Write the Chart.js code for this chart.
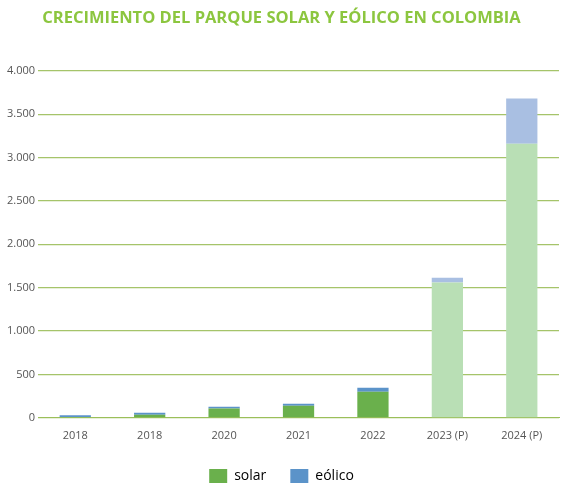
<!DOCTYPE html><html><head><script src="https://cdn.jsdelivr.net/npm/chart.js"></script>
<style>body{margin:0;background:#fff}#w{width:569px;height:495px}</style></head><body><div id="w"><canvas id="c"></canvas></div>
<script>
const categories=["2018","2018","2020","2021","2022","2023 (P)","2024 (P)"];
const solar=[10,35,107,140,300,1560,3160];
const eolico=[20,22,20,22,45,55,520];
const solarColors=["#6ab04c","#6ab04c","#6ab04c","#6ab04c","#6ab04c","#b9dfb5","#b9dfb5"];
const eolicoColors=["#5b93c9","#5b93c9","#5b93c9","#5b93c9","#5b93c9","#a9bfe2","#a9bfe2"];
new Chart(document.getElementById('c'),{type:'bar',
data:{labels:categories,datasets:[
{label:'solar',data:solar,backgroundColor:solarColors,barPercentage:0.42,categoryPercentage:1},
{label:'eólico',data:eolico,backgroundColor:eolicoColors,barPercentage:0.42,categoryPercentage:1}]},
options:{responsive:true,maintainAspectRatio:false,animation:false,
layout:{padding:{left:4,right:10,top:0,bottom:2}},
plugins:{title:{display:true,text:'CRECIMIENTO DEL PARQUE SOLAR Y EÓLICO EN COLOMBIA',color:'#8cc63f',font:{family:'Open Sans',size:16.5,weight:'bold'},padding:{top:8,bottom:43}},
legend:{position:'bottom',labels:{boxWidth:18,boxHeight:14,padding:24,color:'#444',font:{family:'Open Sans',size:14},
generateLabels:c=>[{text:'solar',fillStyle:'#6ab04c',strokeStyle:'#6ab04c',lineWidth:0,datasetIndex:0},{text:'eólico',fillStyle:'#5b93c9',strokeStyle:'#5b93c9',lineWidth:0,datasetIndex:1}]}},
tooltip:{enabled:false}},
scales:{x:{stacked:true,grid:{display:false},border:{color:'#9bbf5a'},ticks:{color:'#555',font:{family:'Open Sans',size:11}}},
y:{stacked:true,min:0,max:4000,ticks:{stepSize:500,color:'#555',font:{family:'Open Sans',size:11},callback:v=>v.toLocaleString('de-DE')},grid:{color:'#a5c46a',lineWidth:1.2,drawTicks:false},border:{display:false}}}}});
</script></body></html>
